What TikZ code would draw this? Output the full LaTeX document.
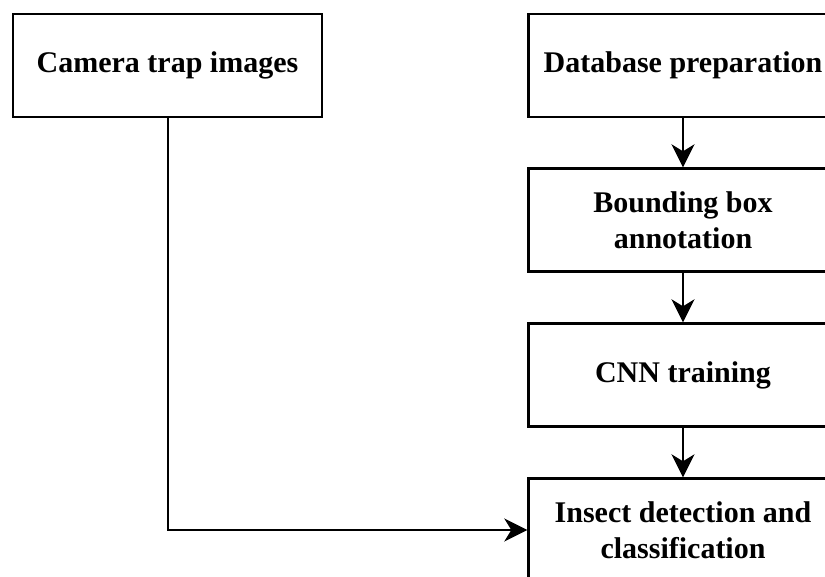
\documentclass[tikz,border=0pt]{standalone}
\usepackage{fontspec}
\setmainfont{Liberation Serif}
\usetikzlibrary{arrows.meta}
\begin{document}
\begin{tikzpicture}[x=1pt,y=1pt,
  box/.style={draw, line width=2.4pt, minimum width=309pt, minimum height=103pt,
    inner sep=0pt, align=center, font=\fontsize{30}{36}\selectfont\bfseries},
  arr/.style={line width=2pt, -{Stealth[length=23pt,width=23pt,inset=7pt]}}]
\useasboundingbox (0,0) rectangle (825,-576);
\clip (0,0) rectangle (825,-576);
\node[box] (cam) at (167.5,-65.5) {Camera trap images};
\node[box] (db) at (683,-65.5) {Database preparation};
\node[box] (bb) at (683,-220) {Bounding box\\annotation};
\node[box] (cnn) at (683,-375) {CNN training};
\node[box] (ins) at (683,-530) {Insect detection and\\classification};
\draw[arr] (db) -- (bb);
\draw[arr] (bb) -- (cnn);
\draw[arr] (cnn) -- (ins);
\draw[arr] (cam) |- (ins);
\end{tikzpicture}
\end{document}
